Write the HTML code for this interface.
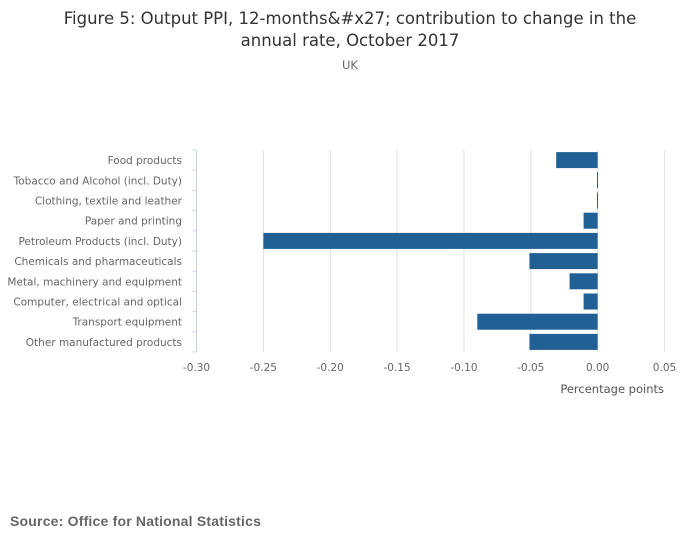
<!DOCTYPE html>
<html><head><meta charset="utf-8"><style>
body{margin:0;background:#fff;font-family:"DejaVu Sans","Liberation Sans",sans-serif;}
#wrap{position:relative;width:700px;height:549px;overflow:hidden;}
</style></head><body>
<div id="wrap">
<svg id="chart" width="700" height="549" font-family="DejaVu Sans, Liberation Sans, sans-serif">
<text x="350" y="24" text-anchor="middle" font-size="16.5" fill="#333">Figure 5: Output PPI, 12-months&amp;#x27; contribution to change in the</text>
<text x="350" y="46" text-anchor="middle" font-size="16.5" fill="#333">annual rate, October 2017</text>
<text x="350" y="69" text-anchor="middle" font-size="11.5" fill="#666">UK</text>
<text x="664" y="393" text-anchor="end" font-size="11.5" fill="#555">Percentage points</text>
<text x="10" y="526" font-size="14" font-weight="bold" fill="#666" font-family="Liberation Sans, sans-serif" letter-spacing="0.2">Source: Office for National Statistics</text>
<g id="grid"></g><g id="bars"></g><g id="axes"></g>
</svg>
</div>
<script>
const categories=["Food products","Tobacco and Alcohol (incl. Duty)","Clothing, textile and leather","Paper and printing","Petroleum Products (incl. Duty)","Chemicals and pharmaceuticals","Metal, machinery and equipment","Computer, electrical and optical","Transport equipment","Other manufactured products"];
const values=[-0.031,-0.0005,-0.0005,-0.0105,-0.25,-0.051,-0.021,-0.0105,-0.09,-0.051];
const xTicks=[-0.30,-0.25,-0.20,-0.15,-0.10,-0.05,0.00,0.05];
const xTickLabels=["-0.30","-0.25","-0.20","-0.15","-0.10","-0.05","0.00","0.05"];
const NS="http://www.w3.org/2000/svg";
const x0=196.5,x1=664.5,dMin=-0.30,dMax=0.05,yTop=150,yBot=352;
const xs=v=>x0+(v-dMin)/(dMax-dMin)*(x1-x0);
const band=(yBot-yTop)/categories.length;
const yc=i=>yTop+band*(i+0.5);
function mk(tag,attrs,parent){const e=document.createElementNS(NS,tag);for(const k in attrs)e.setAttribute(k,attrs[k]);parent.appendChild(e);return e;}
const grid=document.getElementById('grid'),bars=document.getElementById('bars'),axes=document.getElementById('axes');
xTicks.forEach((t,i)=>{
  if(i>0){const g=mk('line',{x1:xs(t),x2:xs(t),y1:yTop,y2:yBot,stroke:'#e2e2e2','stroke-width':1},grid);
  
  }
  const l=mk('text',{x:xs(t),y:371,'text-anchor':'middle','font-size':10.5,fill:'#666'},axes);
  l.textContent=xTickLabels[i];
  
  
});
categories.forEach((c,i)=>{
  const v=values[i];const a=xs(Math.min(0,v)),b=xs(Math.max(0,v));
  const r=mk('rect',{x:a,y:yc(i)-8,width:Math.max(b-a,1),height:16,fill:'#206095'},bars);
  
  
  const t=mk('text',{x:182,y:yc(i)+4,'text-anchor':'end','font-size':10.5,fill:'#666'},axes);
  t.textContent=c;
  
  
});
const ax=mk('line',{x1:x0,x2:x0,y1:yTop,y2:yBot,stroke:'#c8d3e8','stroke-width':1},axes);


for(let i=0;i<=categories.length;i++){
  const y=yTop+band*i;
  const tk=mk('line',{x1:x0,x2:x0-4,y1:y,y2:y,stroke:'#c8d3e8','stroke-width':1},axes);
  
  
}
</script>
</body></html>
